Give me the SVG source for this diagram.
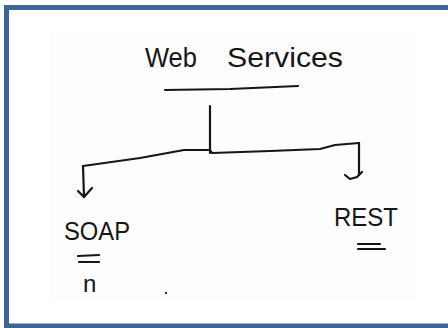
<svg xmlns="http://www.w3.org/2000/svg" width="448" height="328" viewBox="0 0 448 328">
<style>
.ink{fill:none;stroke:#161616;stroke-width:2.2;stroke-linecap:round;stroke-linejoin:round}
.t{font-family:"Liberation Sans","DejaVu Sans",sans-serif;fill:#161616;font-weight:normal}
</style>
<rect x="0" y="0" width="448" height="328" fill="#ffffff"/>
<rect x="50" y="30" width="366" height="270" fill="#fdfdfd"/>
<rect x="6.5" y="7.5" width="444" height="318.5" fill="none" stroke="#3d6595" stroke-width="5"/>
<g id="web-services">
<text class="t" font-size="28"><tspan x="145" y="67" textLength="52" lengthAdjust="spacingAndGlyphs">Web</tspan><tspan x="227" y="67" textLength="116" lengthAdjust="spacingAndGlyphs">Services</tspan></text>
<path class="ink" d="M165 90 L230 89 L298 86"/>
</g>
<g id="connectors">
<path class="ink" d="M210 106 L210 153"/>
<path class="ink" d="M83 166 L140 158 L184 150 L210 150 L212 153 L270 151 L320 149 L335 145 L359 143"/>
<path class="ink" d="M83 166 L84 197"/>
<path class="ink" d="M78 191 L84 197 L92 188"/>
<path class="ink" d="M359 143 L359 175"/>
<path class="ink" d="M345 175 L350 179 L357 177 L362 172"/>
</g>
<g id="soap">
<text class="t" x="64" y="240" font-size="25" textLength="66" lengthAdjust="spacingAndGlyphs">SOAP</text>
<path class="ink" d="M78 256 L99 255 M79 262 L99 262"/>
<text class="t" x="83" y="292" font-size="24">n</text>
</g>
<g id="rest">
<text class="t" x="334" y="226" font-size="26" textLength="64" lengthAdjust="spacingAndGlyphs">REST</text>
<path class="ink" d="M358 244 L380 244 M358 249 L385 249"/>
</g>
<circle cx="166" cy="293" r="1.2" fill="#333"/>
</svg>
